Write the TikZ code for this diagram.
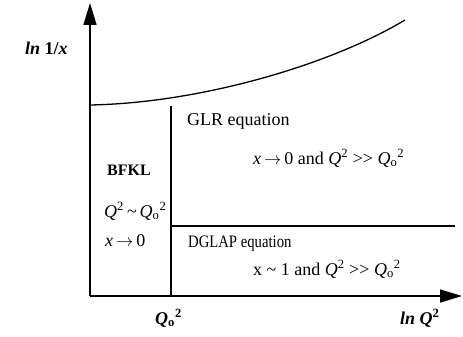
\documentclass[tikz,border=0pt]{standalone}
\usepackage{fontspec}
\setmainfont{Liberation Serif}
\usetikzlibrary{arrows.meta}
\newcommand{\Qsq}{\textit{Q}\textsuperscript{2}}
\newcommand{\Qosq}{\textit{Q}\textsubscript{o}\textsuperscript{2}}
\newcommand{\mygg}{>{}>}
\newcommand{\arr}{$\rightarrow$}
\tikzset{
  axis/.style={line width=1.6pt, -{Triangle[length=22pt,width=13pt]}},
  bound/.style={line width=1.3pt},
  lbl/.style={anchor=base west, inner sep=0pt, font=\fontsize{18}{21}\selectfont},
}
\begin{document}
\begin{tikzpicture}[x=1pt,y=-1pt]
\useasboundingbox (0,0) rectangle (463,337);
\coordinate (O) at (90,296);
\coordinate (ytop) at (90,3);
\coordinate (xend) at (462,296);
\coordinate (c0) at (90,105);
\coordinate (c1) at (405,20);
\coordinate (v0) at (171,106);
\coordinate (v1) at (171,296);
\coordinate (h0) at (171,226);
\coordinate (h1) at (455,226);
\draw[axis] (O) -- (ytop);
\draw[axis] (O) -- (xend);
\draw[bound] (c0) .. controls (200,103) and (330,65) .. (c1);
\draw[bound] (v0) -- (v1);
\draw[bound] (h0) -- (h1);
\node[lbl] (ylab) at (25,55) {\textbf{\textit{ln} 1/\textit{x}}};
\node[lbl, font=\fontsize{16}{19}\selectfont] (bfkl) at (107,175) {\textbf{BFKL}};
\node[lbl] (bq) at (104,217) {\Qsq\,\textasciitilde\,\Qosq};
\node[lbl] (bx) at (105,246) {\textit{x}\,\arr\,0};
\node[lbl] (glr) at (187,125) {GLR equation};
\node[lbl] (glrc) at (253,164) {\textit{x}\,\arr\,0 and \Qsq\ \mygg\ \Qosq};
\node[lbl, font=\fontsize{17.5}{20}\selectfont, xscale=0.84] (dglap) at (188,247) {DGLAP equation};
\node[lbl] (dglapc) at (253,275) {x \textasciitilde\ 1 and \Qsq\ \mygg\ \Qosq};
\node[lbl] (q0) at (155,324) {\textbf{\Qosq}};
\node[lbl] (xlab) at (400,324) {\textbf{\textit{ln} \Qsq}};
\end{tikzpicture}
\end{document}
